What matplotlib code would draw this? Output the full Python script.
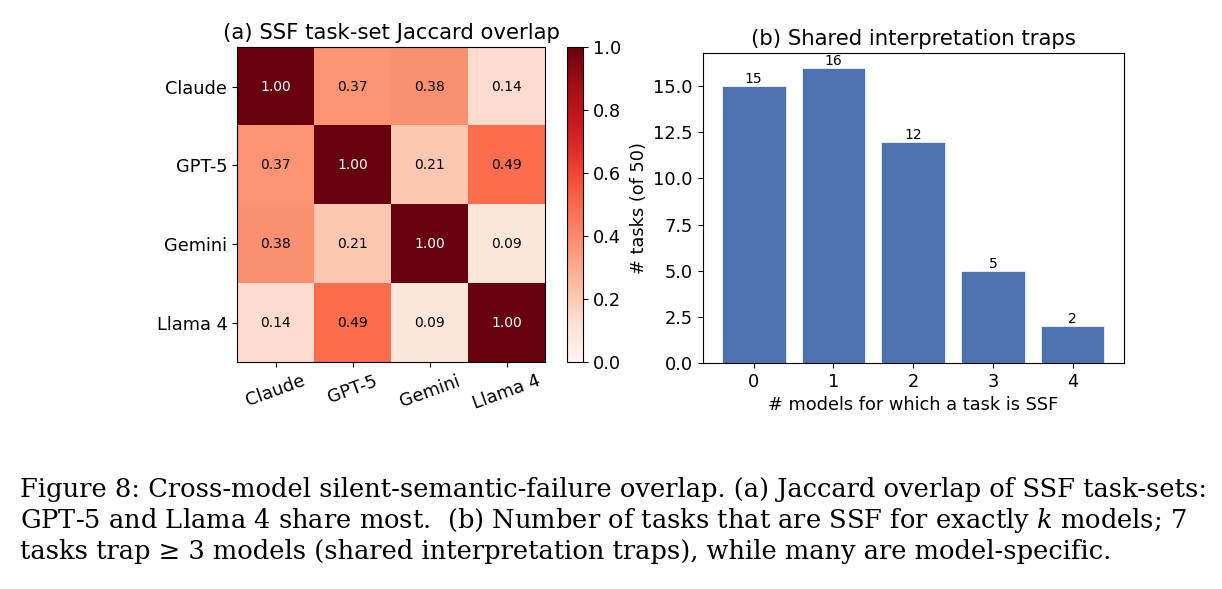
import numpy as np
import matplotlib
matplotlib.use("Agg")
import matplotlib.pyplot as plt
from matplotlib.ticker import MultipleLocator, FormatStrFormatter

# ---- data ----
models = ["Claude", "GPT-5", "Gemini", "Llama 4"]
jaccard = [
    [1.00, 0.37, 0.38, 0.14],
    [0.37, 1.00, 0.21, 0.49],
    [0.38, 0.21, 1.00, 0.09],
    [0.14, 0.49, 0.09, 1.00],
]
k_models = [0, 1, 2, 3, 4]
n_tasks = [15, 16, 12, 5, 2]

caption_lines = [
    "Figure 8: Cross-model silent-semantic-failure overlap. (a) Jaccard overlap of SSF task-sets:",
    "GPT-5 and Llama 4 share most.  (b) Number of tasks that are SSF for exactly $k$ models; 7",
    "tasks trap \u2265 3 models (shared interpretation traps), while many are model-specific.",
]

plt.rcParams["font.family"] = "DejaVu Sans"
plt.rcParams["mathtext.fontset"] = "dejavuserif"

fs_tick = 12.8
fs_title = 15.3

fig = plt.figure(figsize=(12.22, 5.89), dpi=100)

# (a) heatmap
ax1 = fig.add_axes([0.194, 0.385, 0.252, 0.535])
cax = fig.add_axes([0.464, 0.385, 0.0131, 0.535])
mat = np.array(jaccard)
im = ax1.imshow(mat, cmap="Reds", vmin=0, vmax=1, aspect="auto")
for i in range(len(models)):
    for j in range(len(models)):
        v = mat[i, j]
        ax1.text(j, i, f"{v:.2f}", ha="center", va="center", fontsize=10,
                 color="white" if v > 0.5 else "black")
ax1.set_xticks(range(len(models)))
ax1.set_xticklabels(models, rotation=20, ha="center", fontsize=fs_tick)
ax1.set_yticks(range(len(models)))
ax1.set_yticklabels(models, fontsize=fs_tick)
ax1.set_title("(a) SSF task-set Jaccard overlap", fontsize=fs_title)
cb = fig.colorbar(im, cax=cax)
cb.ax.tick_params(labelsize=fs_tick)

# (b) bar chart
ax2 = fig.add_axes([0.575, 0.384, 0.3445, 0.526])
bars = ax2.bar(k_models, n_tasks, color="#4C72B0", edgecolor="white", linewidth=0.5)
for b, v in zip(bars, n_tasks):
    ax2.text(b.get_x() + b.get_width() / 2, v, str(v), ha="center", va="bottom", fontsize=10)
ax2.set_xticks(k_models)
ax2.yaxis.set_major_locator(MultipleLocator(2.5))
ax2.yaxis.set_major_formatter(FormatStrFormatter("%.1f"))
ax2.tick_params(labelsize=fs_tick)
ax2.set_xlabel("# models for which a task is SSF", fontsize=fs_tick)
ax2.set_ylabel("# tasks (of 50)", fontsize=fs_tick)
ax2.set_title("(b) Shared interpretation traps", fontsize=fs_title)

# caption
for n, line in enumerate(caption_lines):
    fig.text(0.016, 0.156 - n * 0.0526, line, fontsize=18.5, family="DejaVu Serif",
             ha="left", va="baseline")

plt.savefig("out.png", dpi=100)
plt.close()
